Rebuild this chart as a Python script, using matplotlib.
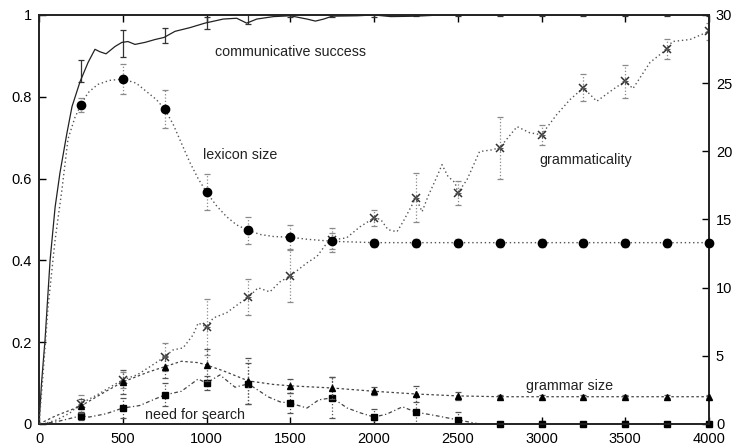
import matplotlib
matplotlib.use("Agg")
import matplotlib.pyplot as plt

# sample points where the runs were averaged (markers + error bars)
steps = [250, 500, 750, 1000, 1250, 1500, 1750, 2000, 2250, 2500, 2750, 3000, 3250, 3500, 3750, 4000]

# communicative success (left axis)
success_x = [0, 15, 36, 66, 96, 125, 167, 197, 245, 293, 334, 364, 400, 454, 495, 531, 573, 633, 693, 746,
             812, 901, 990, 1100, 1180, 1240, 1300, 1400, 1500, 1600, 1650, 1700, 1750, 1900, 2000, 2100,
             2250, 2400, 4000]
success_y = [0, 0.1, 0.206, 0.40, 0.53, 0.614, 0.712, 0.776, 0.837, 0.884, 0.916, 0.91, 0.905, 0.923, 0.933,
             0.935, 0.928, 0.933, 0.94, 0.945, 0.96, 0.969, 0.98, 0.99, 0.992, 0.98, 0.99, 0.996, 0.998,
             0.99, 0.985, 0.99, 0.997, 0.998, 1.0, 0.996, 0.997, 1.0, 1.0]
success_pts = [0.863, 0.93, 0.95, 0.98, 0.99, 0.998, 1.0, 1.0, 1.0, 1.0, 1.0, 1.0, 1.0, 1.0, 1.0, 1.0]
success_err = [0.027, 0.033, 0.018, 0.015, 0.012, 0.004, 0.004, 0.004, 0.003, 0.003, 0.003, 0.003, 0.003,
               0.003, 0.003, 0.003]

# lexicon size (right axis)
lexicon_x = [0, 20, 54, 96, 137, 173, 215, 250, 293, 350, 420, 500, 580, 650, 700, 750, 800, 850, 900, 950,
             1000, 1060, 1120, 1180, 1250, 1320, 1400, 1500, 1600, 1750, 2000, 4000]
lexicon_y = [0, 3, 8.6, 13.5, 17.2, 20.9, 22.5, 23.4, 24.3, 24.9, 25.2, 25.3, 25.0, 24.3, 23.8, 23.1, 22.0,
             20.6, 19.2, 18.0, 17.0, 16.0, 15.2, 14.6, 14.2, 13.9, 13.75, 13.7, 13.55, 13.4, 13.3, 13.3]
lexicon_pts = [23.4, 25.3, 23.1, 17.0, 14.2, 13.7, 13.4, 13.3, 13.3, 13.3, 13.3, 13.3, 13.3, 13.3, 13.3, 13.3]
lexicon_err = [0.5, 1.1, 1.4, 1.3, 1.0, 0.9, 0.6, 0.3, 0.3, 0.3, 0.3, 0.3, 0.3, 0.3, 0.3, 0.3]

# grammaticality (left axis)
gram_x = [0, 24, 107, 185, 250, 346, 424, 500, 585, 662, 750, 800, 860, 920, 950, 1000, 1040, 1120, 1200,
          1250, 1308, 1378, 1440, 1500, 1600, 1660, 1720, 1750, 1836, 1916, 2000, 2040, 2084, 2137, 2173,
          2250, 2287, 2322, 2376, 2406, 2442, 2484, 2500, 2555, 2630, 2700, 2750, 2854, 2930, 3000, 3090,
          3170, 3250, 3330, 3427, 3500, 3546, 3648, 3750, 3780, 3887, 4000]
gram_y = [0, 0, 0.01, 0.027, 0.05, 0.071, 0.09, 0.108, 0.12, 0.14, 0.164, 0.181, 0.186, 0.218, 0.247, 0.237,
          0.259, 0.272, 0.296, 0.31, 0.333, 0.323, 0.348, 0.362, 0.394, 0.41, 0.443, 0.45, 0.455, 0.482,
          0.504, 0.50, 0.475, 0.47, 0.494, 0.553, 0.519, 0.556, 0.605, 0.634, 0.605, 0.59, 0.565, 0.597,
          0.666, 0.67, 0.675, 0.727, 0.712, 0.707, 0.756, 0.793, 0.822, 0.789, 0.818, 0.838, 0.82, 0.884,
          0.917, 0.935, 0.94, 0.96]
gram_pts = [0.05, 0.108, 0.164, 0.237, 0.31, 0.362, 0.45, 0.504, 0.553, 0.565, 0.675, 0.707, 0.822, 0.838,
            0.917, 0.96]
gram_err = [0.02, 0.02, 0.035, 0.068, 0.044, 0.063, 0.03, 0.02, 0.06, 0.03, 0.075, 0.025, 0.033, 0.04,
            0.025, 0.02]

# grammar size (right axis)
gsize_x = [0, 100, 250, 400, 500, 650, 750, 850, 950, 1000, 1100, 1250, 1400, 1500, 1750, 2000, 2250, 2500,
           2750, 4000]
gsize_y = [0, 0.6, 1.32, 2.4, 3.08, 3.8, 4.2, 4.6, 4.5, 4.33, 3.9, 3.16, 2.9, 2.8, 2.64, 2.4, 2.2, 2.06,
           2.0, 2.0]
gsize_pts = [1.32, 3.08, 4.2, 4.33, 3.16, 2.8, 2.64, 2.4, 2.2, 2.06, 2.0, 2.0, 2.0, 2.0, 2.0, 2.0]
gsize_err = [0.5, 0.85, 0.8, 1.2, 1.7, 0.5, 0.8, 0.3, 0.6, 0.3, 0.1, 0.1, 0.1, 0.1, 0.1, 0.1]

# need for search (left axis)
search_x = [0, 100, 250, 300, 400, 500, 600, 750, 850, 950, 1000, 1080, 1170, 1250, 1370, 1440, 1500, 1600,
            1670, 1750, 1840, 1920, 2000, 2075, 2170, 2250, 2375, 2500, 2630, 4000]
search_y = [0, 0.005, 0.02, 0.017, 0.025, 0.039, 0.045, 0.071, 0.08, 0.11, 0.1, 0.12, 0.09, 0.098, 0.066,
            0.054, 0.051, 0.039, 0.059, 0.064, 0.039, 0.027, 0.017, 0.024, 0.042, 0.029, 0.02, 0.01, 0.0, 0.0]
search_pts = [0.02, 0.039, 0.071, 0.1, 0.098, 0.051, 0.064, 0.017, 0.029, 0.01, 0, 0, 0, 0, 0, 0]
search_err = [0.01, 0.025, 0.028, 0.018, 0.05, 0.025, 0.05, 0.02, 0.04, 0.02, 0.005, 0.008, 0.005, 0.008,
              0.005, 0.005]

plt.rcParams['font.family'] = ['Liberation Sans', 'DejaVu Sans']

fig = plt.figure(figsize=(7.39, 4.48), dpi=100)
ax = fig.add_axes([0.0528, 0.0536, 0.9066, 0.913])
ax2 = ax.twinx()

ERR = '#8a8a8a'


def errbars(a, x, y, e, color, style=':'):
    _, caps, bars = a.errorbar(x, y, yerr=e, fmt='none', ecolor=color, elinewidth=0.9,
                               capsize=2.5, capthick=0.9, zorder=2)
    for b in bars:
        b.set_linestyle(style)


# left axis series
ax.plot(success_x, success_y, color='#222222', lw=0.9, ls='-', zorder=3)
errbars(ax, steps, success_pts, success_err, '#333333', '-')

ax.plot(gram_x, gram_y, color='#555555', lw=1.0, ls=(0, (1, 2)), zorder=3)
errbars(ax, steps, gram_pts, gram_err, ERR)
ax.plot(steps, gram_pts, ls='none', marker='x', ms=6, mew=1.1, color='#333333', zorder=4)
ax.plot(steps, gram_pts, ls='none', marker='+', ms=5, mew=0.8, color='#555555', zorder=4)

ax.plot(search_x, search_y, color='#444444', lw=0.9, ls=(0, (3, 2, 1, 2)), zorder=3)
errbars(ax, steps, search_pts, search_err, '#555555')
ax.plot(steps, search_pts, ls='none', marker='s', ms=5, color='black', zorder=4, clip_on=False)

# right axis series
ax2.plot(lexicon_x, lexicon_y, color='#555555', lw=1.0, ls=(0, (1, 2)), zorder=3)
errbars(ax2, steps, lexicon_pts, lexicon_err, ERR)
ax2.plot(steps, lexicon_pts, ls='none', marker='o', ms=6, color='black', zorder=4, clip_on=False)

ax2.plot(gsize_x, gsize_y, color='#444444', lw=0.9, ls=(0, (2, 2)), zorder=3)
errbars(ax2, steps, gsize_pts, gsize_err, '#555555')
ax2.plot(steps, gsize_pts, ls='none', marker='^', ms=5, color='black', zorder=4, clip_on=False)

ax.set_xlim(0, 4000)
ax.set_ylim(0, 1)
ax2.set_ylim(0, 30)
ax.set_xticks(range(0, 4001, 500))
ax.set_yticks([0, 0.2, 0.4, 0.6, 0.8, 1])
ax.set_yticklabels(['0', '0.2', '0.4', '0.6', '0.8', '1'])
ax2.set_yticks(range(0, 31, 5))

ax.tick_params(axis='x', direction='in', top=True, length=5, width=1, labelsize=10.5, pad=5.5)
ax.tick_params(axis='y', direction='in', length=5, width=1, labelsize=10.5, pad=5)
ax2.tick_params(axis='y', direction='in', length=5, width=1, labelsize=10.5, pad=5)
for a in (ax, ax2):
    for s in a.spines.values():
        s.set_linewidth(1.2)
        s.set_color('#222222')

ax.text(1500, 0.91, 'communicative success', fontsize=10.3, ha='center', va='center', color='#222222')
ax.text(1200, 0.658, 'lexicon size', fontsize=10.3, ha='center', va='center', color='#222222')
ax.text(3266, 0.646, 'grammaticality', fontsize=10.3, ha='center', va='center', color='#222222')
ax.text(3170, 0.093, 'grammar size', fontsize=10.3, ha='center', va='center', color='#222222')
ax.text(931, 0.022, 'need for search', fontsize=10.3, ha='center', va='center', color='#222222')

fig.savefig('out.png', dpi=100)
